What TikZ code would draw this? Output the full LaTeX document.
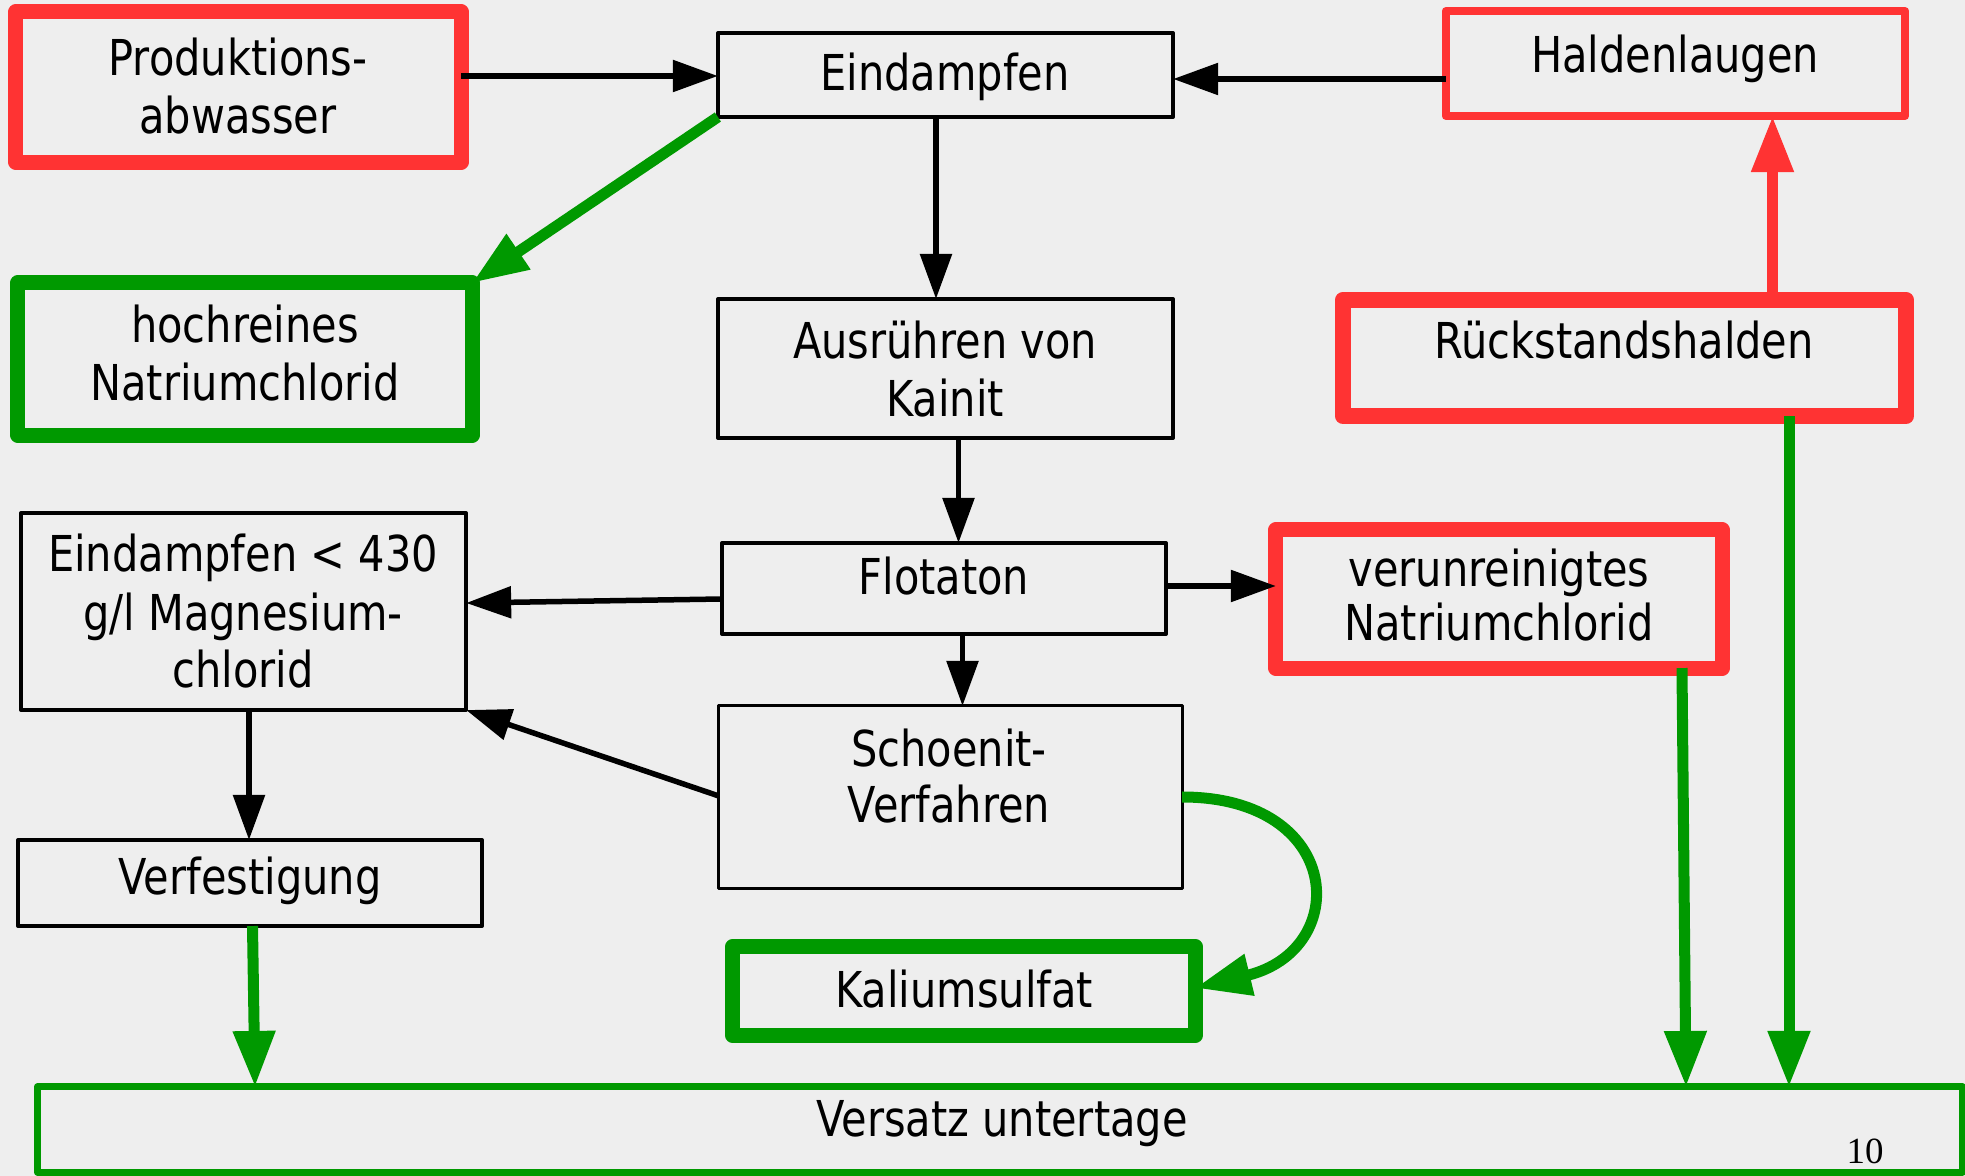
\documentclass[tikz,border=0pt]{standalone}
\usepackage{fontspec}
\newfontfamily\dv[FakeStretch=0.84]{DejaVu Sans}
\newfontfamily\tms{Liberation Serif}
\usetikzlibrary{arrows.meta,calc}
\definecolor{bg}{HTML}{EEEEEE}
\definecolor{rd}{HTML}{FF3333}
\definecolor{gn}{HTML}{009900}
\begin{document}
\begin{tikzpicture}[x=0.01cm,y=-0.01cm,
 box/.style={draw,inner sep=0pt,outer sep=0pt,line join=round},
 blkbox/.style={box,draw=black,line width=0.035cm},
 redbox/.style={box,draw=rd,line width=0.15cm},
 grnbox/.style={box,draw=gn,line width=0.15cm},
 txt/.style={inner sep=0pt,anchor=base,font=\dv\fontsize{14.06pt}{16.5pt}\selectfont},
 blk/.style={draw=black,line width=0.055cm,-{Triangle[length=0.45cm,width=0.31cm]}},
 grn/.style={draw=gn,line width=0.11cm,-{Triangle[length=0.56cm,width=0.40cm]}},
 rdl/.style={draw=rd,line width=0.11cm,-{Triangle[length=0.56cm,width=0.40cm]}},
]
\fill[bg] (0,0) rectangle (1965,1176);
\useasboundingbox (0,0) rectangle (1965,1176);

% boxes
\node[redbox,minimum width=4.45cm,minimum height=1.50cm] (prod) at (238.5,87) {};
\node[blkbox,minimum width=4.55cm,minimum height=0.84cm] (eind) at (945.5,75) {};
\node[redbox,line width=0.08cm,minimum width=4.59cm,minimum height=1.05cm] (hald) at (1675.5,63.5) {};
\node[grnbox,minimum width=4.54cm,minimum height=1.52cm] (hoch) at (245,359) {};
\node[blkbox,minimum width=4.55cm,minimum height=1.39cm] (ausr) at (945.5,368.5) {};
\node[redbox,line width=0.16cm,minimum width=5.63cm,minimum height=1.16cm] (rueck) at (1624.5,358) {};
\node[blkbox,minimum width=4.44cm,minimum height=0.91cm] (flot) at (944,588.5) {};
\node[redbox,minimum width=4.46cm,minimum height=1.38cm] (veru) at (1499,599) {};
\node[blkbox,minimum width=4.45cm,minimum height=1.97cm] (eindmg) at (243.5,611.5) {};
\node[blkbox,line width=0.03cm,minimum width=4.63cm,minimum height=1.82cm] (scho) at (950.5,797) {};
\node[blkbox,minimum width=4.64cm,minimum height=0.86cm] (verf) at (250,883) {};
\node[grnbox,minimum width=4.62cm,minimum height=0.89cm] (kali) at (964,991) {};
\node[grnbox,line width=0.07cm,minimum width=19.24cm,minimum height=0.85cm] (vers) at (1000,1129.5) {};

% texts
\node[txt] (t1a) at (238,76) {Produktions-};
\node[txt] (t1b) at (238,134) {abwasser};
\node[txt] (t2) at (945,91) {Eindampfen};
\node[txt] (t3) at (1675,72.5) {Haldenlaugen};
\node[txt] (t4a) at (245,343) {hochreines};
\node[txt] (t4b) at (245,401) {Natriumchlorid};
\node[txt] (t5a) at (945,359) {Ausrühren von};
\node[txt] (t5b) at (945,417) {Kainit};
\node[txt] (t6) at (1624,358.5) {Rückstandshalden};
\node[txt] (t7) at (944,594) {Flotaton};
\node[txt] (t8a) at (1499,587) {verunreinigtes};
\node[txt] (t8b) at (1499,640) {Natriumchlorid};
\node[txt] (t9a) at (243,572) {Eindampfen < 430};
\node[txt] (t9b) at (243,630) {g/l Magnesium-};
\node[txt] (t9c) at (243,688) {chlorid};
\node[txt] (t10a) at (949,766) {Schoenit-};
\node[txt] (t10b) at (949,823) {Verfahren};
\node[txt] (t11) at (250,894) {Verfestigung};
\node[txt] (t12) at (964,1008) {Kaliumsulfat};
\node[txt] (t13) at (1002,1136) {Versatz untertage};
\node[inner sep=0pt,anchor=base,font=\tms\fontsize{10.5pt}{12pt}\selectfont] (pg) at (1865,1163) {10};

% black connectors
\draw[blk] (prod.east |- 0,76) -- (eind.west |- 0,76);
\draw[blk] (hald.west |- 0,79) -- (eind.east |- 0,79);
\draw[blk] (eind.south -| 936,0) -- (ausr.north -| 936,0);
\draw[blk] (ausr.south -| 958.5,0) -- (flot.north -| 958.5,0);
\draw[blk] (flot.east |- 0,586) -- (veru.west |- 0,586);
\draw[blk] (flot.west |- 0,599) -- (eindmg.east |- 0,603);
\draw[blk] (flot.south -| 962.5,0) -- (scho.north -| 962.5,0);
\draw[blk] (scho.west |- 0,796) -- (eindmg.south east);
\draw[blk] (eindmg.south -| 249,0) -- (verf.north -| 249,0);

% green / red connectors
\draw[grn] (eind.south west) -- (hoch.north east);
\draw[grn] (verf.south -| 252.5,0) -- (vers.north -| 255,0);
\draw[grn] (scho.east |- 0,797) .. controls +(162,0) and +(157,-38) .. (kali.east |- 0,988);
\draw[rdl] (rueck.north -| 1772.5,0) -- (hald.south -| 1772.5,0);
\draw[grn] (rueck.south -| 1789,0) -- (vers.north -| 1789,0);
\draw[grn] (veru.south -| 1682,0) -- (vers.north -| 1686,0);
\end{tikzpicture}
\end{document}
